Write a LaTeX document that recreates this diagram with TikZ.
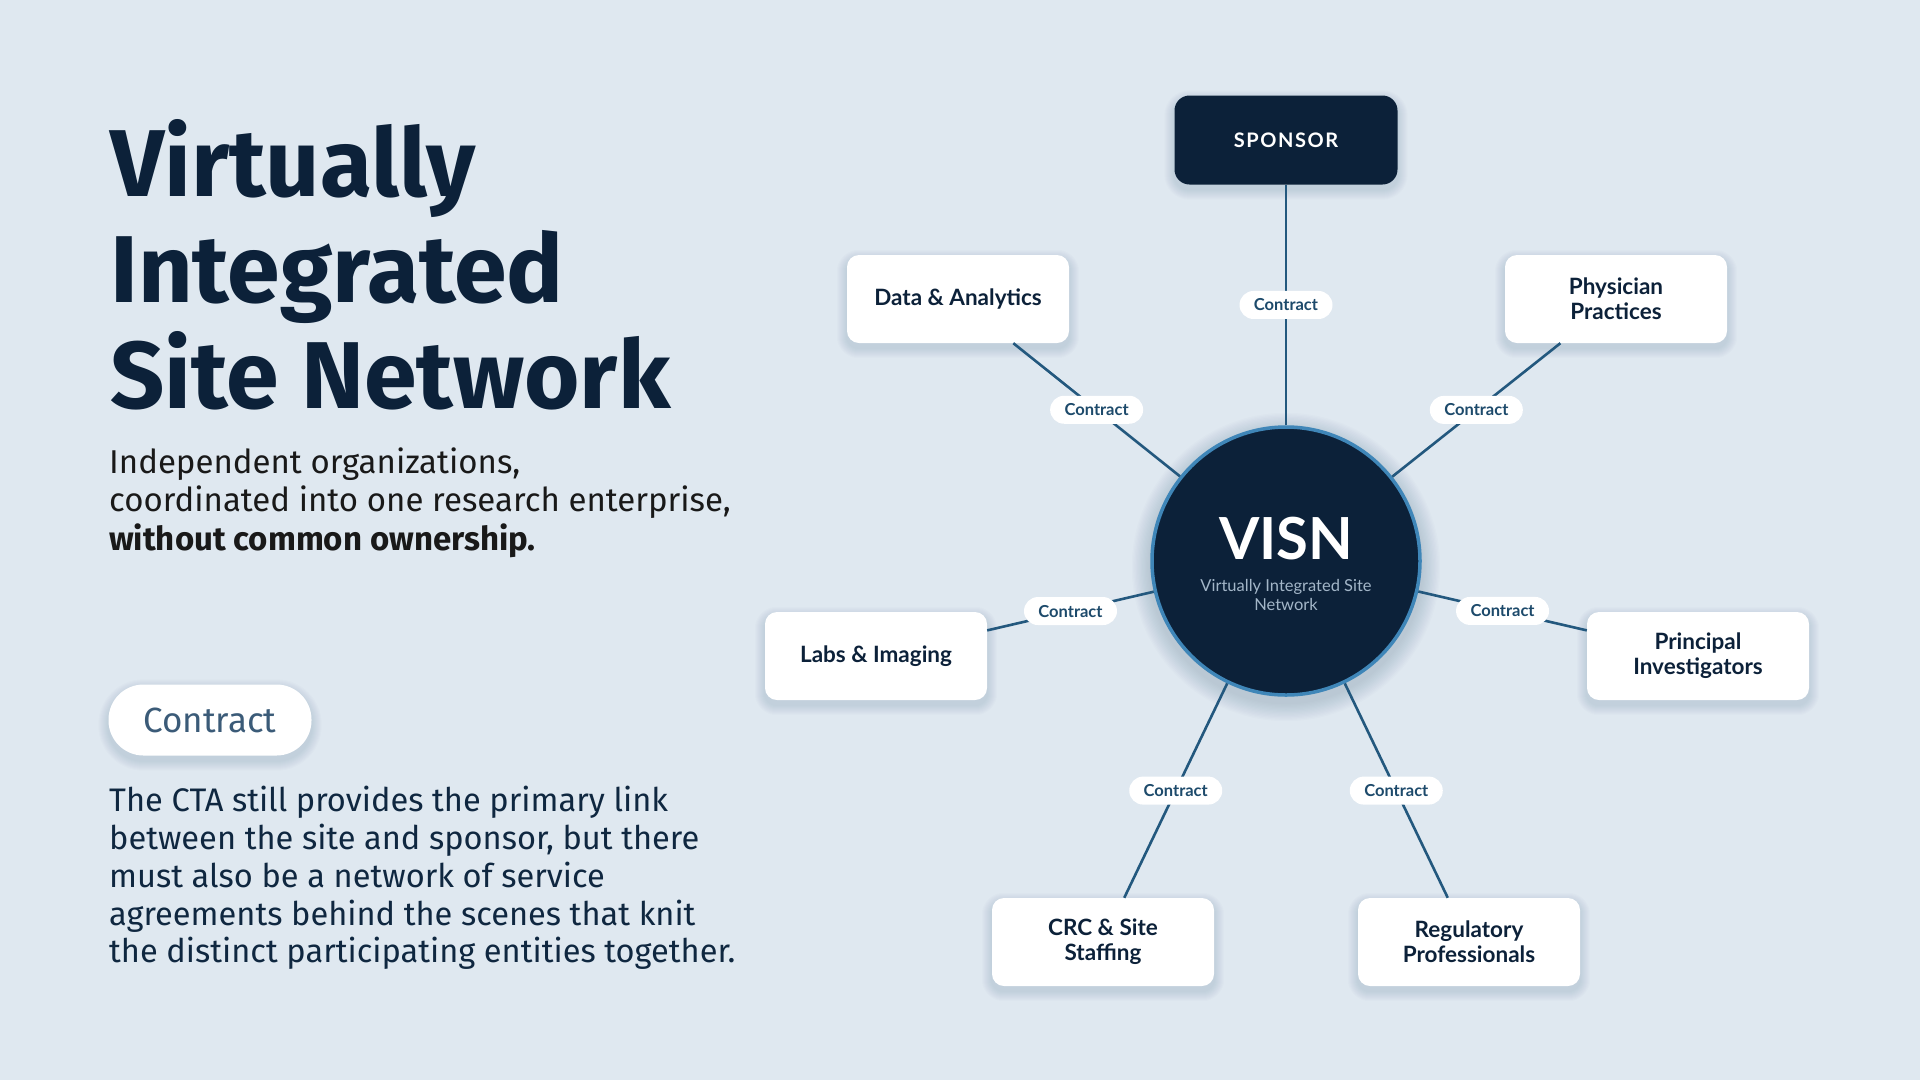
\documentclass[tikz,border=0pt]{standalone}
\usepackage{fontspec}
\setmainfont{Fira Sans}
\newfontfamily\nodefont{Lato}
\usetikzlibrary{calc}
\pgfdeclarelayer{bgl}
\pgfdeclarelayer{shadowl}
\pgfsetlayers{bgl,shadowl,main}
\definecolor{bg}{HTML}{DFE8F0}
\definecolor{navy}{HTML}{0C2139}
\definecolor{linec}{HTML}{23587E}
\definecolor{circb}{HTML}{3F86B8}
\definecolor{subg}{HTML}{A3B6C8}
\definecolor{pilltxt}{HTML}{1D4A6B}
\definecolor{legtxt}{HTML}{3B5B78}
\definecolor{bodytxt}{HTML}{0F2740}
\definecolor{shadc}{HTML}{1A3450}
\tikzset{
  titleline/.style={anchor=base west, inner sep=0pt, text=navy, font=\fontsize{95}{100}\selectfont\bfseries},
  subline/.style={anchor=base west, inner sep=0pt, text=black!90, font=\fontsize{33}{38}\selectfont},
  bodyline/.style={anchor=base west, inner sep=0pt, text=bodytxt, font=\fontsize{32.6}{38}\selectfont},
  entity/.style={rectangle, rounded corners=12pt, fill=white, minimum width=222pt, minimum height=88pt, align=center, text=navy, font=\nodefont\bfseries\fontsize{22.5}{25}\selectfont},
  cpill/.style={rectangle, rounded corners=14pt, fill=white, minimum width=93pt, minimum height=28pt, inner sep=0pt, text=pilltxt, font=\nodefont\bfseries\fontsize{16.5}{18}\selectfont},
  conn/.style={draw=linec, line width=2.6pt},
}
\begin{document}
\begin{tikzpicture}[x=1pt,y=-1pt]
\begin{pgfonlayer}{bgl}
\fill[bg] (0,0) rectangle (1920,1080);
\end{pgfonlayer}
\useasboundingbox (0,0) rectangle (1920,1080);

% Title
\node[titleline] (t1) at (110,196) {Virtually};
\node[titleline] (t2) at (110,302) {Integrated};
\node[titleline] (t3) at (110,408) {Site Network};

% Subtitle
\node[subline] (s1) at (109,473) {Independent organizations,};
\node[subline] (s2) at (109,511) {coordinated into one research enterprise,};
\node[subline, font=\fontsize{33}{38}\selectfont\bfseries] (s3) at (109,550) {without common ownership.};

% Legend pill
\node[rectangle, rounded corners=35pt, fill=white, minimum width=203pt, minimum height=71pt, text=legtxt, font=\fontsize{35}{38}\selectfont] (legend) at (210,720) {Contract};

% Body paragraph
\node[bodyline] (b1) at (109,811) {The CTA still provides the primary link};
\node[bodyline] (b2) at (109,849) {between the site and sponsor, but there};
\node[bodyline] (b3) at (109,887) {must also be a network of service};
\node[bodyline] (b4) at (109,925) {agreements behind the scenes that knit};
\node[bodyline] (b5) at (109,962) {the distinct participating entities together.};

% Hub
\node[circle, minimum size=268pt, inner sep=0pt, fill=navy, draw=circb, line width=3.5pt] (visn) at (1286,561) {};
\node[text=white, font=\nodefont\bfseries\fontsize{58}{60}\selectfont, inner sep=0pt] (visnt) at (1286,539) {VISN};
\node[text=subg, align=center, font=\nodefont\fontsize{16.5}{19.6}\selectfont, inner sep=0pt] (visns) at (1286,595) {Virtually Integrated Site\\Network};

% Sponsor
\node[rectangle, rounded corners=15pt, fill=navy, minimum width=223pt, minimum height=89pt, text=white, font=\nodefont\bfseries\fontsize{20}{24}\selectfont\addfontfeatures{LetterSpace=8}] (sponsor) at (1286,140) {SPONSOR};

% Entities
\node[entity] (data) at (958,299) {Data \& Analytics};
\node[entity] (phys) at (1616,299) {Physician\\Practices};
\node[entity] (labs) at (876,656) {Labs \& Imaging};
\node[entity] (pi) at (1698,656) {Principal\\Investigators};
\node[entity] (crc) at (1103,942) {CRC \& Site\\Staffing};
\node[entity] (reg) at (1469,942) {Regulatory\\Professionals};

% Soft shadows
\begin{pgfonlayer}{shadowl}
\foreach \n/\r in {data/12,phys/12,labs/12,pi/12,crc/12,reg/12,sponsor/15,legend/35} {
  \foreach \i in {1,...,10} {
    \pgfmathsetmacro\rr{\r+\i}
    \fill[shadc, opacity=0.012, rounded corners=\rr pt] ($(\n.north west)+(-\i,-\i+5)$) rectangle ($(\n.south east)+(\i,\i+5)$);
  }
}
\foreach \i in {1,...,14} {
  \fill[shadc, opacity=0.012] ($(visn.center)+(0,6)$) circle[radius=136+1.3*\i];
}
\end{pgfonlayer}

% Connectors
\draw[conn] (visn) -- node[cpill, midway] (c0) {Contract} (sponsor);
\draw[conn] (visn) -- node[cpill, midway] (c1) {Contract} (data);
\draw[conn] (visn) -- node[cpill, midway] (c2) {Contract} (phys);
\draw[conn] (visn) -- node[cpill, midway] (c3) {Contract} (labs);
\draw[conn] (visn) -- node[cpill, midway] (c4) {Contract} (pi);
\draw[conn] (visn) -- node[cpill, midway] (c5) {Contract} (crc);
\draw[conn] (visn) -- node[cpill, midway] (c6) {Contract} (reg);
\end{tikzpicture}
\end{document}
